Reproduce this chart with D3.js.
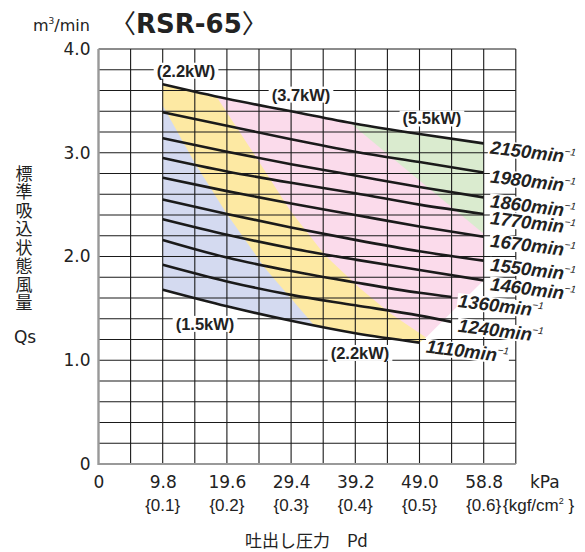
<!DOCTYPE html>
<html><head><meta charset="utf-8">
<script src="https://cdn.jsdelivr.net/npm/d3@7"></script>
<style>body{margin:0;background:#fff} svg{display:block}</style>
</head><body><svg id="c" width="585" height="552"></svg>
<script>
// ---- data ----
const xTickValues = [0, 9.8, 19.6, 29.4, 39.2, 49.0, 58.8];
const xTickKgf = ["", "{0.1}", "{0.2}", "{0.3}", "{0.4}", "{0.5}", "{0.6}"];
const yTickValues = [0, 1, 2, 3, 4];
const yTickLabels = ["0", "1.0", "2.0", "3.0", "4.0"];
const speeds = [2150, 1980, 1860, 1770, 1670, 1550, 1460, 1360, 1240, 1110];
const pFull = [9.8, 19.6, 29.4, 39.2, 49.0, 58.8];
const pMid  = [9.8, 19.6, 29.4, 39.2, 49.0, 53.9];
const pShort = [9.8, 19.6, 29.4, 39.2, 49.0];
const q2150 = [3.66, 3.52, 3.40, 3.28, 3.18, 3.09];
const q1980 = [3.39, 3.26, 3.13, 3.01, 2.91, 2.81];
const q1860 = [3.14, 3.01, 2.89, 2.78, 2.67, 2.57];
const q1770 = [2.95, 2.82, 2.71, 2.61, 2.50, 2.41];
const q1670 = [2.76, 2.63, 2.51, 2.40, 2.29, 2.19];
const q1550 = [2.55, 2.41, 2.28, 2.16, 2.05, 1.96];
const q1460 = [2.36, 2.21, 2.08, 1.97, 1.87, 1.77];
const q1360 = [2.16, 1.99, 1.86, 1.75, 1.65, 1.61];
const q1240 = [1.92, 1.76, 1.63, 1.53, 1.43, 1.37];
const q1110 = [1.68, 1.52, 1.38, 1.26, 1.17];
// power-region boundaries [kPa, m3/min]
const blueEdge   = [[9.8, 3.455], [14.73, 2.90], [19.6, 2.41], [25.4, 1.89], [31.98, 1.405], [33.0, 1.33]];
const yellowEdge = [[13.2, 4.0], [18.09, 3.532], [23.89, 2.974], [29.23, 2.445], [34.57, 2.012], [39.91, 1.694], [44.5, 1.453], [50.0, 1.22]];
const greenEdge  = [[24.8, 4.0], [58.8, 2.22]];
const lowerEdge  = [[49.0, 1.17], [50.0, 1.22], [58.8, 1.77]];
const kwLabels = ["(2.2kW)", "(3.7kW)", "(5.5kW)", "(1.5kW)", "(2.2kW)"];
const kwAtP = [13.36, 30.91, 50.9, 16.26, 39.92];
const kwAtQ = [3.79, 3.56, 3.33, 1.35, 1.07];

const series = [
  {s: 2150, p: pFull, q: q2150}, {s: 1980, p: pFull, q: q1980},
  {s: 1860, p: pFull, q: q1860}, {s: 1770, p: pFull, q: q1770},
  {s: 1670, p: pFull, q: q1670}, {s: 1550, p: pFull, q: q1550},
  {s: 1460, p: pFull, q: q1460}, {s: 1360, p: pMid, q: q1360},
  {s: 1240, p: pMid, q: q1240}, {s: 1110, p: pShort, q: q1110}
].map(d => ({s: d.s, pts: d.p.map((p, i) => [p, d.q[i]])}));

// ---- chart ----
const svg = d3.select("#c");
const x = d3.scaleLinear().domain([0, 63.7]).range([98.5, 515.8]);
const y = d3.scaleLinear().domain([0, 4]).range([464, 49]);
const poly = d3.line().x(d => x(d[0])).y(d => y(d[1]));
const curve = d3.line().x(d => x(d[0])).y(d => y(d[1])).curve(d3.curveMonotoneX);

const colPink = "#fbdbeb", colYellow = "#fde9a3", colBlue = "#d4daf0", colGreen = "#daebcf";
const gReg = svg.append("g");
gReg.append("path").attr("d", poly([[9.8, 0], [9.8, 4], [58.8, 4], [58.8, 0]]) + "Z").attr("fill", colPink);
gReg.append("path").attr("d", poly([[9.8, 4], ...yellowEdge, [50.0, 0], [9.8, 0]]) + "Z").attr("fill", colYellow);
gReg.append("path").attr("d", poly([...blueEdge, [33.0, 0], [9.8, 0]]) + "Z").attr("fill", colBlue);
gReg.append("path").attr("d", poly([...greenEdge, [58.8, 4]]) + "Z").attr("fill", colGreen);
// white masks outside the operating envelope
const topCurve = series[0].pts, botCurve = series[9].pts;
gReg.append("path").attr("fill", "#fff")
  .attr("d", d3.area().x(d => x(d[0])).y0(y(4.05)).y1(d => y(d[1])).curve(d3.curveMonotoneX)(topCurve));
gReg.append("path").attr("fill", "#fff")
  .attr("d", d3.area().x(d => x(d[0])).y0(y(0)).y1(d => y(d[1])).curve(d3.curveMonotoneX)(botCurve));
gReg.append("path").attr("fill", "#fff")
  .attr("d", poly([...lowerEdge, [59, 1.77], [59, 0], [49.0, 0]]) + "Z");

// grid
const gGrid = svg.append("g").attr("stroke", "#1a1a1a").attr("stroke-width", 1.1);
d3.range(1, 14).forEach(i => {
  const v = i * 4.9;
  gGrid.append("line").attr("x1", x(v)).attr("x2", x(v)).attr("y1", y(0)).attr("y2", y(4));
});
d3.range(1, 21).forEach(i => {
  const v = i * 0.2;
  gGrid.append("line").attr("x1", x(0)).attr("x2", x(63.7)).attr("y1", y(v)).attr("y2", y(v));
});
svg.append("line").attr("x1", x(0)).attr("x2", x(0)).attr("y1", y(0) + 1).attr("y2", y(4))
  .attr("stroke", "#999").attr("stroke-width", 2.4);
svg.append("line").attr("x1", x(0)).attr("x2", x(63.7)).attr("y1", y(0)).attr("y2", y(0))
  .attr("stroke", "#999").attr("stroke-width", 2);

// curves
svg.append("g").selectAll("path").data(series).join("path")
  .attr("d", d => curve(d.pts)).attr("fill", "none")
  .attr("stroke", "#1a1a1a").attr("stroke-width", 2.6);

// kW labels
kwLabels.forEach((t, i) => {
  const g = svg.append("g").attr("transform", `translate(${x(kwAtP[i])},${y(kwAtQ[i])})`);
  const r = g.append("rect").attr("fill", "#fff");
  const tx = g.append("text").text(t).attr("text-anchor", "middle").attr("dy", "0.36em")
    .attr("font-family", "Liberation Sans, Arial, sans-serif").attr("font-weight", "bold")
    .attr("font-size", 16.5).attr("fill", "#222");
  const b = tx.node().getBBox();
  r.attr("x", b.x - 3).attr("y", b.y + 1).attr("width", b.width + 6).attr("height", b.height - 2);
});

// speed labels
series.forEach(d => {
  const e = d.pts[d.pts.length - 1];
  const g = svg.append("g").attr("transform", `translate(${x(e[0]) + 6},${y(e[1]) + 10}) rotate(7)`);
  const r = g.append("rect").attr("fill", "#fff");
  const tx = g.append("text").attr("font-family", "Liberation Sans, Arial, sans-serif")
    .attr("font-weight", "bold").attr("font-style", "italic").attr("font-size", 18.5).attr("fill", "#222");
  tx.append("tspan").text(d.s + "min");
  tx.append("tspan").text("\u22121").attr("font-size", 10).attr("font-weight", "normal").attr("dy", -8);
  const b = tx.node().getBBox();
  r.attr("x", b.x - 1).attr("y", b.y + 3).attr("width", b.width + 2).attr("height", b.height - 5);
});

// axes
const fontTick = "DejaVu Sans, sans-serif";
const ax = svg.append("g").attr("transform", `translate(0,${y(0)})`)
  .call(d3.axisBottom(x).tickValues(xTickValues).tickSize(0).tickPadding(12)
    .tickFormat(d => d === 0 ? "0" : d.toFixed(1)));
ax.select(".domain").remove();
ax.selectAll("text").attr("font-family", fontTick).attr("font-size", 17).attr("fill", "#222");
const ayy = svg.append("g").attr("transform", `translate(${x(0)},0)`)
  .call(d3.axisLeft(y).tickValues(yTickValues).tickSize(0).tickPadding(8)
    .tickFormat((d, i) => yTickLabels[i]));
ayy.select(".domain").remove();
ayy.selectAll("text").attr("font-family", fontTick).attr("font-size", 17).attr("fill", "#222");

const fontSub = "Liberation Sans, Arial, sans-serif";
svg.append("g").selectAll("text").data(xTickValues.slice(1)).join("text")
  .attr("x", d => x(d)).attr("y", 511).attr("text-anchor", "middle")
  .attr("font-family", fontSub).attr("font-size", 17).attr("fill", "#222")
  .text((d, i) => xTickKgf[i + 1]);

svg.append("text").attr("x", 530).attr("y", 488).attr("font-family", fontTick)
  .attr("font-size", 17).attr("fill", "#222").text("kPa");
const kg = svg.append("text").attr("x", 503).attr("y", 511).attr("font-family", fontSub)
  .attr("font-size", 17).attr("fill", "#222");
kg.append("tspan").text("{kgf/cm");
kg.append("tspan").text("2").attr("font-size", 9).attr("dy", -7);
kg.append("tspan").text(" }").attr("dy", 7);

svg.append("text").attr("x", 245).attr("y", 547)
  .attr("font-family", "Noto Sans CJK JP, sans-serif").attr("font-size", 17).attr("fill", "#222")
  .text("吐出し圧力\u3000Pd");

// y title (vertical)
svg.append("text").attr("x", 24).attr("y", 165)
  .attr("font-family", "Noto Sans CJK JP, sans-serif").attr("font-size", 17).attr("fill", "#222")
  .style("writing-mode", "vertical-rl").style("text-orientation", "upright")
  .attr("letter-spacing", 1.5)
  .text("標準吸込状態風量");
svg.append("text").attr("x", 25).attr("y", 343).attr("text-anchor", "middle")
  .attr("font-family", fontTick).attr("font-size", 17).attr("fill", "#222").text("Qs");

// unit
const un = svg.append("text").attr("x", 33).attr("y", 31).attr("font-family", fontTick)
  .attr("font-size", 16).attr("fill", "#222");
un.append("tspan").text("m");
un.append("tspan").text("3").attr("font-size", 9).attr("dy", -7);
un.append("tspan").text("/min").attr("dy", 7);

// title
const tt = svg.append("text").attr("x", 110).attr("y", 33).attr("font-family", "DejaVu Sans, sans-serif")
  .attr("font-weight", "bold").attr("font-size", 26).attr("fill", "#222");
tt.append("tspan").text("〈").attr("font-family", "Noto Sans CJK JP, sans-serif").attr("font-weight", "normal");
tt.append("tspan").text("RSR-65");
tt.append("tspan").text("〉").attr("font-family", "Noto Sans CJK JP, sans-serif").attr("font-weight", "normal");
</script></body></html>
